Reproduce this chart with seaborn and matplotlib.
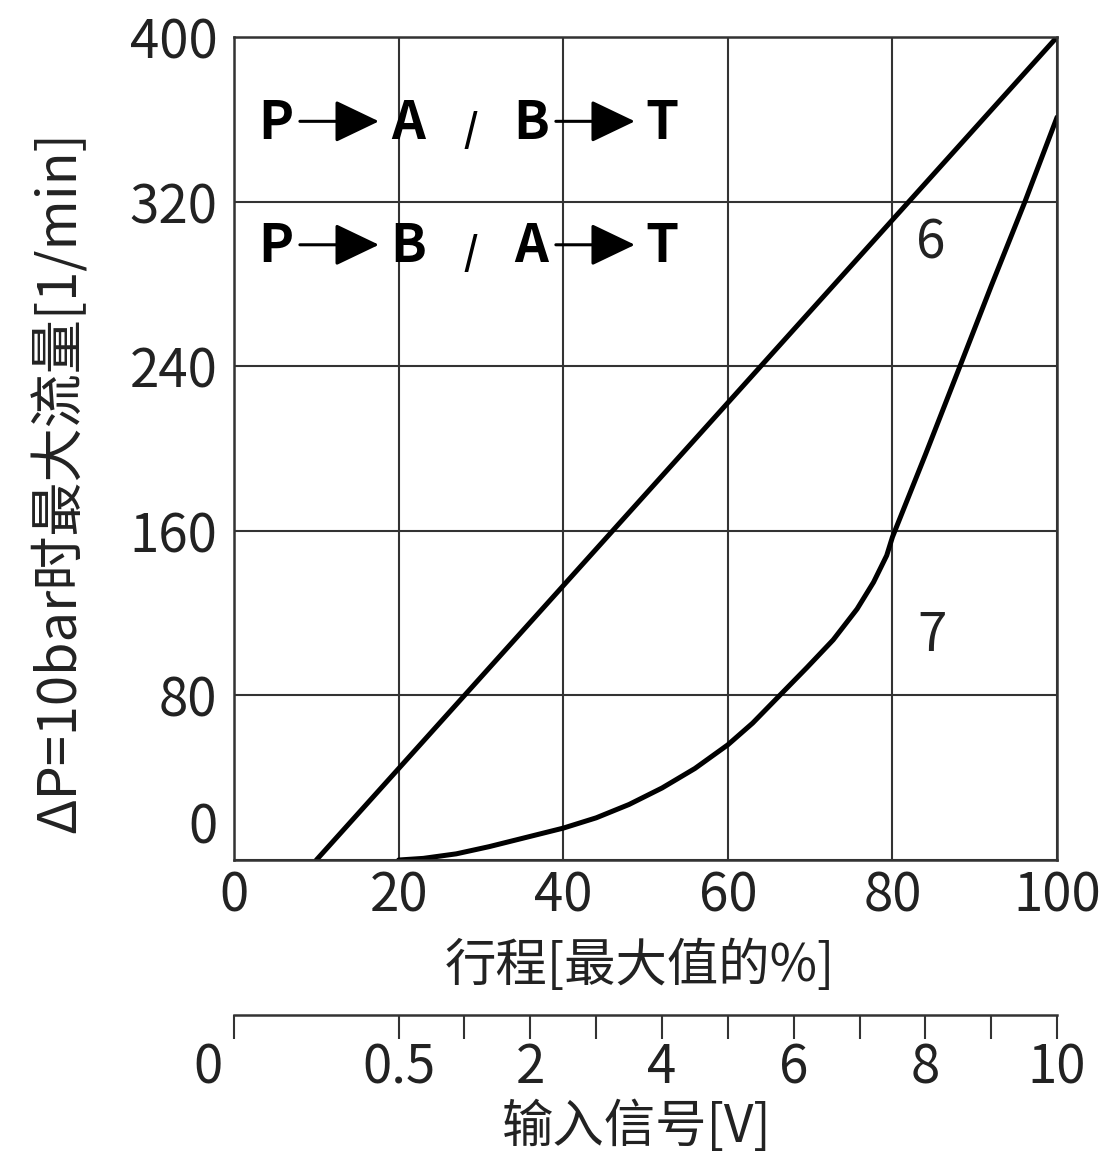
import matplotlib
matplotlib.use("Agg")
import matplotlib.pyplot as plt
import matplotlib.transforms as mtransforms
import pandas as pd
import seaborn as sns

# curve 6: linear
stroke_6 = [10, 100]
flow_6 = [0, 400]

# curve 7: progressive
stroke_7 = [20, 23, 27, 31, 35, 40, 44, 48, 52, 56, 60, 63, 66.3, 69.6, 72.8,
            75.7, 77.7, 79.3, 80, 84, 88.2, 92, 96.1, 100]
flow_7 = [0, 0.8, 3, 6.5, 10.5, 15.5, 20.5, 27, 35, 44.5, 56, 66.5, 80, 93.5, 107,
          122, 135, 148, 157, 197, 240, 279, 320, 361]

x_ticks = [0, 20, 40, 60, 80, 100]
y_ticks = [0, 80, 160, 240, 320, 400]

# input signal scale (positions in % stroke)
sig_pos = [0, 20, 36, 52, 68, 84, 100]
sig_labels = ["0", "0.5", "2", "4", "6", "8", "10"]
sig_minor = [28, 44, 60, 76, 92]

sns.set_theme(style="white")
cjk_font = ["Noto Sans CJK SC", "DejaVu Sans"]
plt.rcParams["font.family"] = cjk_font
num_kw = dict(fontsize=38, fontweight="light", color="#222222")

fig = plt.figure(figsize=(11.04, 11.55), dpi=100)
ax = fig.add_axes([0.212, 0.2554, 0.7455, 0.7126])

df6 = pd.DataFrame({"stroke": stroke_6, "flow": flow_6})
df7 = pd.DataFrame({"stroke": stroke_7, "flow": flow_7})
sns.lineplot(data=df6, x="stroke", y="flow", ax=ax, color="black", lw=3.6, sort=False)
sns.lineplot(data=df7, x="stroke", y="flow", ax=ax, color="black", lw=3.6, sort=False)

ax.set_xlim(0, 100)
ax.set_ylim(0, 400)
ax.set_xticks(x_ticks)
ax.set_yticks(y_ticks)
ax.set_xticklabels([str(v) for v in x_ticks], **num_kw)
ax.set_yticklabels([str(v) for v in y_ticks], **num_kw)
ax.tick_params(axis="y", length=0, pad=12)
ax.tick_params(axis="x", length=0, pad=6)
ax.grid(True, color="#333333", lw=1.5)
for s in ax.spines.values():
    s.set_color("#333333")
    s.set_linewidth(1.8)

# lift the y "0" label above the x-axis
lab0 = ax.get_yticklabels()[0]
lab0.set_transform(lab0.get_transform() +
                   mtransforms.ScaledTranslation(0, 0.38, fig.dpi_scale_trans))

ax.set_xlabel("行程[最大值的%]", fontsize=37, color="#222222")
ax.xaxis.set_label_coords(0.493, -0.097)
ax.set_ylabel("ΔP=10bar时最大流量[1/min]", fontsize=39, color="#222222")
ax.yaxis.set_label_coords(-0.178, 0.459)

# port labels
for yy, mid1, mid2 in [(358, "A", "B"), (298, "B", "A")]:
    for xx, t in [(5.1, "P"), (21.1, mid1), (36.1, mid2), (52.0, "T")]:
        ax.text(xx, yy, t, fontsize=38, fontweight="bold", ha="center", va="center",
                color="black")
    ax.text(28.7, yy - 9, "/", fontsize=27, fontweight="bold", ha="center",
            va="baseline", color="black")
    for x0, x1 in [(8.0, 17.6), (39.1, 48.7)]:
        ax.annotate("", xy=(x1, yy + 1), xytext=(x0, yy + 1),
                    arrowprops=dict(arrowstyle="-|>,head_length=2.3,head_width=1.1",
                                    lw=2.2, color="black", shrinkA=0, shrinkB=0))

ax.text(84.6, 300, "6", ha="center", va="center", **num_kw)
ax.text(84.8, 109, "7", ha="center", va="center", **num_kw)

# input signal scale
ax2 = fig.add_axes([0.212, 0.1212, 0.7455, 0.0001])
ax2.set_xlim(0, 100)
ax2.set_yticks([])
for k in ["top", "left", "right"]:
    ax2.spines[k].set_visible(False)
ax2.spines["bottom"].set_color("#333333")
ax2.spines["bottom"].set_linewidth(1.8)
ax2.set_xticks(sig_pos)
ax2.set_xticklabels(sig_labels, **num_kw)
ax2.set_xticks(sig_minor, minor=True)
ax2.tick_params(axis="x", which="both", direction="out", length=17, width=1.5,
                color="#333333", pad=1, bottom=True)
sl0 = ax2.get_xticklabels()[0]
sl0.set_transform(sl0.get_transform() +
                  mtransforms.ScaledTranslation(-0.26, 0, fig.dpi_scale_trans))
ax2.set_xlabel("输入信号[V]", fontsize=37, color="#222222")
ax2.xaxis.set_label_coords(0.577, 0.047, transform=fig.transFigure)

fig.savefig("out.png", dpi=100)
